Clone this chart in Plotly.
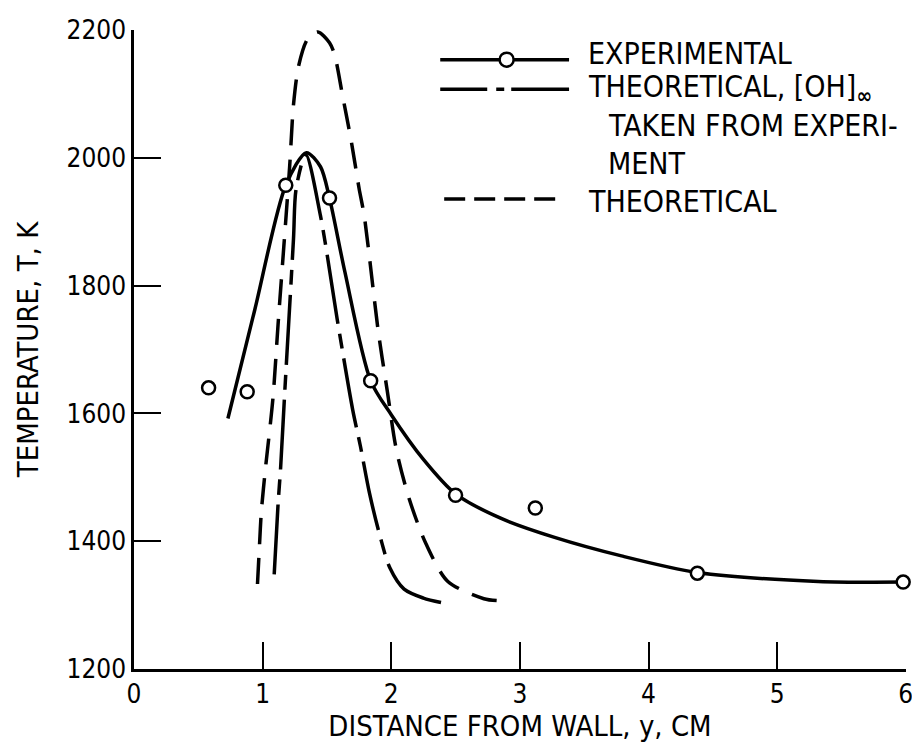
import plotly.graph_objects as go

# ---------------- data ----------------
exp_x = [0.58, 0.88, 1.18, 1.52, 1.84, 2.50, 3.12, 4.38, 5.98]
exp_T = [1640, 1634, 1957, 1937, 1651, 1472, 1452, 1350, 1336]

fit_x = [0.73, 0.94, 1.18, 1.34, 1.45, 1.52, 1.64, 1.84, 2.00, 2.25,
         2.50, 2.85, 3.27, 3.79, 4.38, 5.32, 5.98]
fit_T = [1592, 1763, 1957, 2008, 1986, 1937, 1821, 1651, 1598, 1528,
         1474, 1436, 1406, 1377, 1351, 1337, 1336]

dd_x = [1.09, 1.12, 1.14, 1.17, 1.24, 1.26, 1.335, 1.45, 1.58, 1.70, 1.76, 1.83,
        1.91, 1.99, 2.10, 2.25, 2.41]
dd_T = [1348, 1458, 1515, 1626, 1873, 1951, 2005, 1909, 1747, 1606, 1549, 1476,
        1410, 1358, 1325, 1311, 1303]

ds_x = [0.96, 0.975, 0.99, 1.02, 1.08, 1.12, 1.21, 1.24, 1.28, 1.35, 1.43, 1.52,
        1.56, 1.62, 1.69, 1.75, 1.79, 1.90, 1.97, 2.04, 2.14, 2.27, 2.44, 2.72, 2.83]
ds_T = [1333, 1391, 1446, 1510, 1623, 1739, 1986, 2083, 2144, 2186, 2197, 2180,
        2161, 2099, 2025, 1952, 1909, 1727, 1634, 1543, 1466, 1396, 1337, 1310, 1307]

x_ticks = [0, 1, 2, 3, 4, 5, 6]
y_ticks = [1200, 1400, 1600, 1800, 2000, 2200]

legend_rows = ["EXPERIMENTAL", "THEORETICAL, [OH]<sub><b>∞</b></sub>",
               "TAKEN FROM EXPERI-", "MENT", "THEORETICAL"]

# ---------------- layout constants ----------------
# the page body has an 8px default margin, so the figure is drawn 8px smaller
BODY = 8
W, H = 920 - BODY, 749 - BODY
ML, MR, MT, MB = 134 - BODY, 7, 22 - BODY, 80
PW, PH = W - ML - MR, H - MT - MB
FONT = "DejaVu Sans Condensed, Liberation Sans Narrow, Arial Narrow, sans-serif"
LW = 3.5
TXT = 30


def px(x):
    """page pixel x -> paper coordinate"""
    return (x - BODY - ML) / PW


def py(y):
    """page pixel y -> paper coordinate"""
    return (H - MB - (y - BODY)) / PH


fig = go.Figure()

fig.add_trace(go.Scatter(x=fit_x, y=fit_T, mode="lines",
                         line=dict(color="black", width=LW, shape="spline", smoothing=0.8),
                         showlegend=False))
fig.add_trace(go.Scatter(x=dd_x, y=dd_T, mode="lines",
                         line=dict(color="black", width=LW, shape="spline", smoothing=0.8,
                                   dash="70px,10px,15px,10px"),
                         showlegend=False))
fig.add_trace(go.Scatter(x=ds_x, y=ds_T, mode="lines",
                         line=dict(color="black", width=LW, shape="spline", smoothing=0.8,
                                   dash="26px,14px"),
                         showlegend=False))
fig.add_trace(go.Scatter(x=exp_x, y=exp_T, mode="markers",
                         marker=dict(symbol="circle", size=13, color="white",
                                     line=dict(color="black", width=2.5)),
                         showlegend=False, cliponaxis=False))

# ---------------- hand-drawn style legend ----------------
shapes = []
shapes.append(dict(type="line", xref="paper", yref="paper", x0=px(443), x1=px(573),
                   y0=py(52), y1=py(52), line=dict(color="black", width=LW)))
shapes.append(dict(type="circle", xref="paper", yref="paper",
                   xsizemode="pixel", ysizemode="pixel",
                   xanchor=px(510), yanchor=py(52), x0=-7, x1=7, y0=-7, y1=7,
                   fillcolor="white", line=dict(color="black", width=2.5)))
shapes.append(dict(type="line", xref="paper", yref="paper", x0=px(443), x1=px(573),
                   y0=py(82), y1=py(82),
                   line=dict(color="black", width=LW, dash="47px,9px,8px,7px,70px")))
shapes.append(dict(type="line", xref="paper", yref="paper", x0=px(447), x1=px(567),
                   y0=py(193), y1=py(193),
                   line=dict(color="black", width=LW, dash="21px,9px")))

annotations = []
row_pos = [(590, 46), (590, 81), (610, 119), (610, 157), (590, 196)]
for txt, (ax, ay) in zip(legend_rows, row_pos):
    annotations.append(dict(text=txt, xref="paper", yref="paper", x=px(ax), y=py(ay),
                            xanchor="left", yanchor="middle", showarrow=False,
                            font=dict(family=FONT, size=TXT, color="black")))

axis_common = dict(showline=True, linecolor="black", linewidth=2.5, mirror=False,
                   ticks="inside", ticklen=27, tickwidth=2, tickcolor="black",
                   showgrid=False, zeroline=False, ticklabeloverflow="allow",
                   tickfont=dict(family=FONT, size=26, color="black"))

fig.update_layout(
    width=W, height=H,
    margin=dict(l=ML, r=MR, t=MT, b=MB, pad=0),
    paper_bgcolor="white", plot_bgcolor="white",
    font=dict(family=FONT, size=TXT, color="black"),
    xaxis=dict(range=[0, 6.002], tickvals=x_ticks, ticktext=[str(v) for v in x_ticks],
               title=dict(text="DISTANCE FROM WALL, y, CM", standoff=0,
                          font=dict(family=FONT, size=TXT - 1, color="black")),
               **axis_common),
    yaxis=dict(range=[1200, 2200], tickvals=y_ticks, ticktext=[str(v) for v in y_ticks],
               title=dict(text="TEMPERATURE, T, K", standoff=20,
                          font=dict(family=FONT, size=TXT - 1, color="black")),
               **axis_common),
    shapes=shapes,
    annotations=annotations,
    showlegend=False,
)

fig.write_html("out.html")
